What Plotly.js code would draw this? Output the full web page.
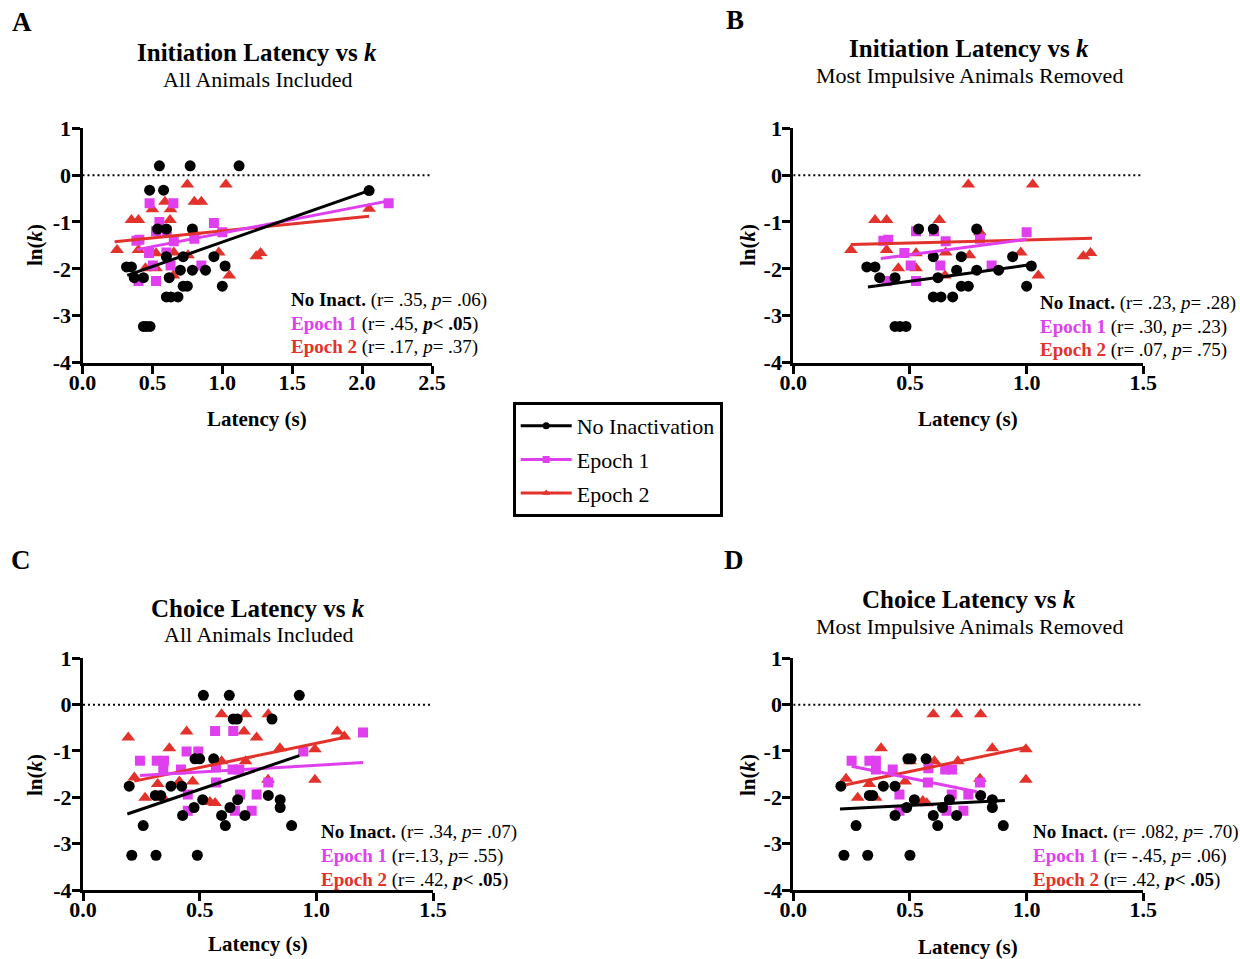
<!DOCTYPE html>
<html>
<head>
<meta charset="utf-8">
<script src="https://cdn.plot.ly/plotly-3.0.1.min.js"></script>
<style>
  html, body { margin: 0; padding: 0; background: #fff; }
  #chart { width: 1240px; height: 959px; }
</style>
</head>
<body>
<div id="chart"></div>
<script>
// ---- Tick labels ----
const xTickValsWide = [0, 0.5, 1.0, 1.5, 2.0, 2.5];
const xTickTextWide = ['0.0', '0.5', '1.0', '1.5', '2.0', '2.5'];
const xTickVals = [0, 0.5, 1.0, 1.5];
const xTickText = ['0.0', '0.5', '1.0', '1.5'];
const yTickVals = [1, 0, -1, -2, -3, -4];
const yTickText = ['1', '0', '-1', '-2', '-3', '-4'];

const seriesNames = ['No Inactivation', 'Epoch 1', 'Epoch 2'];

// ---- Panel A: initiation latency, all animals ----
const aNoneX = [0.55,0.77,1.12,0.48,0.58,2.05,0.537,0.60,0.786,0.315,0.35,0.37,0.436,0.60,0.72,0.94,0.62,0.70,0.786,0.88,1.02,1.00,0.72,0.75,0.60,0.633,0.683,0.436,0.457,0.483];
const aNoneY = [0.2,0.2,0.2,-0.32,-0.32,-0.33,-1.15,-1.15,-1.15,-1.96,-1.96,-2.19,-2.19,-1.74,-1.74,-1.74,-2.19,-2.03,-2.03,-2.03,-1.94,-2.37,-2.37,-2.37,-2.60,-2.60,-2.60,-3.23,-3.23,-3.23];
const aEp1X = [0.48,0.65,0.55,0.94,2.19,0.60,0.386,0.407,0.526,0.603,0.653,0.80,1.00,0.476,0.503,0.63,0.85,0.40,0.526];
const aEp1Y = [-0.60,-0.60,-1.00,-1.02,-0.60,-1.65,-1.40,-1.38,-1.20,-1.20,-1.41,-1.36,-1.22,-1.66,-1.93,-1.93,-1.93,-2.26,-2.26];
const aEp2X = [0.59,0.80,0.85,0.50,0.63,2.05,0.75,1.026,0.35,0.40,0.626,0.247,0.40,0.526,0.653,0.755,0.975,0.80,0.45,0.526,0.65,1.05,1.243,1.274];
const aEp2Y = [-0.57,-0.57,-0.57,-0.73,-0.73,-0.72,-0.20,-0.20,-0.96,-0.96,-0.96,-1.60,-1.60,-1.67,-1.65,-1.71,-1.65,-1.22,-1.99,-1.99,-2.14,-2.14,-1.73,-1.66];
const aNoneFitX = [0.32, 2.05], aNoneFitY = [-2.14, -0.33];
const aEp1FitX = [0.39, 2.19], aEp1FitY = [-1.59, -0.55];
const aEp2FitX = [0.23, 2.05], aEp2FitY = [-1.42, -0.88];
const aStats = ['(r= .35, <i>p</i>= .06)', '(r= .45, <b><i>p</i>&lt; .05</b>)', '(r= .17, <i>p</i>= .37)'];

// ---- Panel B: initiation latency, most impulsive animals removed ----
const bNoneX = [0.537,0.60,0.786,0.315,0.35,0.37,0.436,0.60,0.72,0.94,0.62,0.70,0.786,0.88,1.02,1.00,0.72,0.75,0.60,0.633,0.683,0.436,0.457,0.483];
const bNoneY = [-1.15,-1.15,-1.15,-1.96,-1.96,-2.19,-2.19,-1.74,-1.74,-1.74,-2.19,-2.03,-2.03,-2.03,-1.94,-2.37,-2.37,-2.37,-2.60,-2.60,-2.60,-3.23,-3.23,-3.23];
const bEp1X = [0.386,0.407,0.526,0.603,0.653,0.80,1.00,0.476,0.503,0.63,0.85,0.40,0.526];
const bEp1Y = [-1.40,-1.38,-1.20,-1.20,-1.41,-1.36,-1.22,-1.66,-1.93,-1.93,-1.93,-2.26,-2.26];
const bEp2X = [0.75,1.026,0.35,0.40,0.626,0.247,0.40,0.526,0.653,0.755,0.975,0.80,0.45,0.526,0.65,1.05,1.243,1.274];
const bEp2Y = [-0.20,-0.20,-0.96,-0.96,-0.96,-1.60,-1.60,-1.67,-1.65,-1.71,-1.65,-1.22,-1.99,-1.99,-2.14,-2.14,-1.73,-1.66];
const bNoneFitX = [0.32, 1.02], bNoneFitY = [-2.39, -1.91];
const bEp1FitX = [0.375, 1.0], bEp1FitY = [-1.78, -1.37];
const bEp2FitX = [0.247, 1.28], bEp2FitY = [-1.48, -1.35];
const bStats = ['(r= .23, <i>p</i>= .28)', '(r= .30, <i>p</i>= .23)', '(r= .07, <i>p</i>= .75)'];

// ---- Panel C: choice latency, all animals ----
const cNoneX = [0.516,0.627,0.927,0.644,0.661,0.81,0.198,0.377,0.423,0.31,0.333,0.48,0.50,0.56,0.513,0.663,0.794,0.845,0.845,0.476,0.63,0.427,0.594,0.694,0.258,0.61,0.894,0.209,0.313,0.49];
const cNoneY = [0.2,0.2,0.2,-0.31,-0.31,-0.31,-1.76,-1.76,-1.76,-1.96,-1.96,-1.17,-1.17,-1.17,-2.05,-2.05,-1.96,-2.05,-2.22,-2.22,-2.22,-2.39,-2.39,-2.39,-2.61,-2.61,-2.61,-3.25,-3.25,-3.25];
const cEp1X = [0.566,0.644,0.944,1.20,0.244,0.316,0.347,0.444,0.494,0.344,0.42,0.57,0.641,0.67,0.57,0.794,0.449,0.673,0.744,0.449,0.651,0.723];
const cEp1Y = [-0.57,-0.57,-1.01,-0.60,-1.21,-1.21,-1.21,-1.01,-1.01,-1.40,-1.40,-1.35,-1.40,-1.40,-1.68,-1.68,-1.94,-1.94,-1.94,-2.29,-2.29,-2.29];
const cEp2X = [0.594,0.697,0.794,0.444,0.69,0.194,0.744,0.37,0.844,0.994,1.09,1.12,0.594,0.697,0.994,0.22,0.266,0.32,0.344,0.413,0.47,0.544,0.566,0.793];
const cEp2Y = [-0.21,-0.21,-0.21,-0.58,-0.58,-0.71,-0.71,-0.94,-0.94,-0.96,-0.58,-0.69,-1.22,-1.22,-1.62,-1.57,-2.01,-1.71,-2.01,-1.66,-1.66,-2.10,-2.12,-1.62];
const cNoneFitX = [0.19, 0.927], cNoneFitY = [-2.36, -1.10];
const cEp1FitX = [0.244, 1.20], cEp1FitY = [-1.53, -1.25];
const cEp2FitX = [0.22, 1.12], cEp2FitY = [-1.65, -0.71];
const cStats = ['(r= .34, <i>p</i>= .07)', '(r=.13, <i>p</i>= .55)', '(r= .42, <b><i>p</i>&lt; .05</b>)'];

// ---- Panel D: choice latency, most impulsive animals removed ----
const dNoneX = [0.204,0.326,0.34,0.386,0.436,0.491,0.505,0.569,0.519,0.486,0.436,0.60,0.619,0.64,0.669,0.70,0.803,0.853,0.853,0.90,0.269,0.217,0.319,0.50];
const dNoneY = [-1.76,-1.96,-1.96,-1.76,-1.76,-1.17,-1.17,-1.17,-2.05,-2.22,-2.39,-2.39,-2.61,-2.22,-2.05,-2.39,-1.96,-2.05,-2.22,-2.61,-2.61,-3.25,-3.25,-3.25];
const dEp1X = [0.25,0.326,0.354,0.354,0.426,0.579,0.651,0.68,0.577,0.80,0.455,0.679,0.75,0.455,0.657,0.729];
const dEp1Y = [-1.21,-1.21,-1.21,-1.40,-1.40,-1.37,-1.40,-1.40,-1.68,-1.68,-1.94,-1.94,-1.94,-2.29,-2.29,-2.29];
const dEp2X = [0.60,0.70,0.803,0.376,0.853,0.997,0.997,0.50,0.605,0.705,0.226,0.326,0.479,0.276,0.353,0.555,0.572,0.80];
const dEp2Y = [-0.21,-0.21,-0.21,-0.94,-0.94,-0.96,-1.62,-1.22,-1.22,-1.22,-1.60,-1.71,-1.66,-2.01,-2.01,-2.08,-2.13,-1.60];
const dNoneFitX = [0.20, 0.907], dNoneFitY = [-2.25, -2.07];
const dEp1FitX = [0.25, 0.786], dEp1FitY = [-1.33, -1.88];
const dEp2FitX = [0.226, 1.0], dEp2FitY = [-1.73, -0.92];
const dStats = ['(r= .082, <i>p</i>= .70)', '(r= -.45, <i>p</i>= .06)', '(r= .42, <b><i>p</i>&lt; .05</b>)'];

// ---- Styling ----
const W = 1240, H = 959;
const SERIF = 'Liberation Serif, Times New Roman, serif';
const BLACK = '#000000', MAGENTA = '#E03FEF', RED = '#E3322B';
const colors = [BLACK, MAGENTA, RED];
const symbols = ['circle', 'square', 'triangle-up'];
const sizes = [11, 10, 12];
const statLabels = ['No Inact.', 'Epoch 1', 'Epoch 2'];

const px = v => v / W;        // pixel column -> paper x
const py = v => 1 - v / H;    // pixel row -> paper y

const traces = [];

function addPanel(sfx, series, fits) {
  const xa = 'x' + sfx, ya = 'y' + sfx;
  // points: red, magenta, black (black on top)
  [2, 1, 0].forEach(i => {
    traces.push({
      type: 'scatter', mode: 'markers', xaxis: xa, yaxis: ya,
      x: series[i][0], y: series[i][1], showlegend: false, hoverinfo: 'x+y',
      marker: { symbol: symbols[i], size: sizes[i], color: colors[i], line: { width: 0 } }
    });
  });
  // regression lines
  [2, 1, 0].forEach(i => {
    traces.push({
      type: 'scatter', mode: 'lines', xaxis: xa, yaxis: ya,
      x: fits[i][0], y: fits[i][1], showlegend: false, hoverinfo: 'skip',
      line: { color: colors[i], width: 3 }
    });
  });
}

addPanel('', [[aNoneX, aNoneY], [aEp1X, aEp1Y], [aEp2X, aEp2Y]],
  [[aNoneFitX, aNoneFitY], [aEp1FitX, aEp1FitY], [aEp2FitX, aEp2FitY]]);
addPanel('2', [[bNoneX, bNoneY], [bEp1X, bEp1Y], [bEp2X, bEp2Y]],
  [[bNoneFitX, bNoneFitY], [bEp1FitX, bEp1FitY], [bEp2FitX, bEp2FitY]]);
addPanel('3', [[cNoneX, cNoneY], [cEp1X, cEp1Y], [cEp2X, cEp2Y]],
  [[cNoneFitX, cNoneFitY], [cEp1FitX, cEp1FitY], [cEp2FitX, cEp2FitY]]);
addPanel('4', [[dNoneX, dNoneY], [dEp1X, dEp1Y], [dEp2X, dEp2Y]],
  [[dNoneFitX, dNoneFitY], [dEp1FitX, dEp1FitY], [dEp2FitX, dEp2FitY]]);

// shared legend entries, one group each so the gap spaces them out
seriesNames.forEach((name, i) => {
  traces.push({
    type: 'scatter', mode: 'lines+markers', x: [null], y: [null],
    name: name, showlegend: true, legendrank: i + 1, legendgroup: 'g' + i,
    line: { color: colors[i], width: 3 },
    marker: { symbol: symbols[i], size: 7, color: colors[i] }
  });
});

function xAxis(domain, anchor, vals, text) {
  return {
    domain: domain, anchor: anchor, range: [0, vals[vals.length - 1]],
    tickvals: vals, ticktext: text, ticks: 'outside', ticklen: 8, tickwidth: 3,
    tickcolor: BLACK, showline: true, linewidth: 3, linecolor: BLACK,
    showgrid: false, zeroline: false, fixedrange: true, ticklabelstandoff: -10,
    tickfont: { family: SERIF, size: 22, color: BLACK, weight: 'bold' }
  };
}
function yAxis(domain, anchor) {
  return {
    domain: domain, anchor: anchor, range: [-4, 1],
    tickvals: yTickVals, ticktext: yTickText, ticks: 'outside', ticklen: 8, tickwidth: 3,
    tickcolor: BLACK, showline: true, linewidth: 3, linecolor: BLACK,
    showgrid: false, zeroline: false, fixedrange: true, ticklabelstandoff: -4,
    tickfont: { family: SERIF, size: 22, color: BLACK, weight: 'bold' }
  };
}

const xLeftA = [px(82.5), px(432)];
const xLeftC = [px(83), px(433)];
const xRight = [px(793.3), px(1143.3)];
const yTop = [py(362.5), py(128.3)];
const yBottom = [py(890), py(658.3)];

const annotations = [];
function txt(x, y, text, size, opts) {
  annotations.push(Object.assign({
    xref: 'paper', yref: 'paper', x: px(x), y: py(y), text: text, showarrow: false,
    xanchor: 'center', yanchor: 'middle',
    font: { family: SERIF, size: size, color: BLACK }
  }, opts || {}));
}

// panel letters
[['A', 22, 22], ['B', 735, 20], ['C', 21, 560], ['D', 734, 560]].forEach(p =>
  txt(p[1], p[2], p[0], 27, { font: { family: SERIF, size: 27, color: BLACK, weight: 'bold' } }));

// panel titles
const titles = [
  ['Initiation Latency vs <i>k</i>', 'All Animals Included', 257, 52, 79],
  ['Initiation Latency vs <i>k</i>', 'Most Impulsive Animals Removed', 969, 48, 75],
  ['Choice Latency vs <i>k</i>', 'All Animals Included', 258, 608, 634],
  ['Choice Latency vs <i>k</i>', 'Most Impulsive Animals Removed', 969, 599, 626]
];
titles.forEach(t => {
  txt(t[2], t[3], t[0], 25, { font: { family: SERIF, size: 25, color: BLACK, weight: 'bold' } });
  txt(t[2], t[4], t[1], 22);
});

// axis titles
[[257, 419, 35, 245], [968, 419, 748, 245], [258, 944, 35, 775], [968, 947, 748, 775]].forEach(a => {
  txt(a[0], a[1], 'Latency (s)', 21, { font: { family: SERIF, size: 21, color: BLACK, weight: 'bold' } });
  txt(a[2], a[3], 'ln(<i>k</i>)', 21, { textangle: -90, font: { family: SERIF, size: 21, color: BLACK, weight: 'bold' } });
});

// correlation statistics
[[aStats, 289, [300, 324, 347]], [bStats, 1038, [303, 327, 350]],
 [cStats, 319, [832, 856, 880]], [dStats, 1031, [832, 856, 880]]].forEach(s => {
  s[0].forEach((stat, i) => {
    txt(s[1], s[2][i],
      '<b><span style="color:' + colors[i] + '">' + statLabels[i] + '</span></b> ' + stat,
      19, { xanchor: 'left' });
  });
});

// dotted reference line at ln(k) = 0
const shapes = [['x', 'y', 2.5], ['x2', 'y2', 1.5], ['x3', 'y3', 1.5], ['x4', 'y4', 1.5]].map(s => ({
  type: 'line', xref: s[0], yref: s[1], x0: 0, x1: s[2], y0: 0, y1: 0,
  line: { color: BLACK, width: 2, dash: '2px,3px' }, layer: 'below'
}));

const layout = {
  width: W, height: H,
  margin: { l: 0, r: 0, t: 0, b: 0 },
  paper_bgcolor: '#ffffff', plot_bgcolor: '#ffffff',
  font: { family: SERIF, color: BLACK },
  xaxis: xAxis(xLeftA, 'y', xTickValsWide, xTickTextWide),
  yaxis: yAxis(yTop, 'x'),
  xaxis2: xAxis(xRight, 'y2', xTickVals, xTickText),
  yaxis2: yAxis(yTop, 'x2'),
  xaxis3: xAxis(xLeftC, 'y3', xTickVals, xTickText),
  yaxis3: yAxis(yBottom, 'x3'),
  xaxis4: xAxis(xRight, 'y4', xTickVals, xTickText),
  yaxis4: yAxis(yBottom, 'x4'),
  showlegend: true,
  legend: {
    x: px(512.7), y: py(402), xanchor: 'left', yanchor: 'top',
    bordercolor: BLACK, borderwidth: 3, bgcolor: '#ffffff',
    font: { family: SERIF, size: 22, color: BLACK },
    traceorder: 'grouped', tracegroupgap: 2, itemwidth: 51
  },
  annotations: annotations,
  shapes: shapes
};

Plotly.newPlot('chart', traces, layout, { displayModeBar: false, staticPlot: true });
</script>
</body>
</html>
